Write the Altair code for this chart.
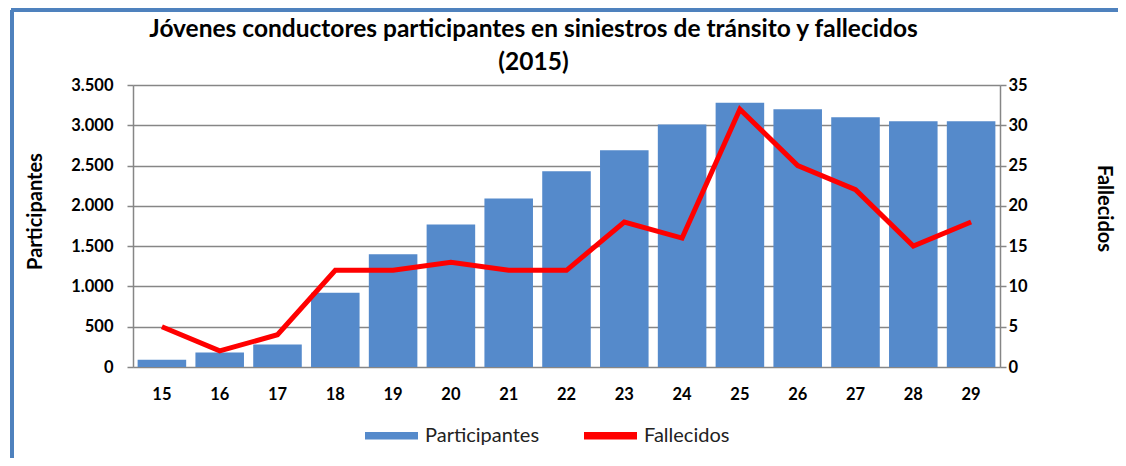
import altair as alt
import pandas as pd

edades = ["15", "16", "17", "18", "19", "20", "21", "22", "23", "24", "25", "26", "27", "28", "29"]
participantes = [90, 180, 280, 920, 1400, 1770, 2090, 2430, 2690, 3010, 3280, 3200, 3100, 3050, 3050]
fallecidos = [5, 2, 4, 12, 12, 13, 12, 12, 18, 16, 32, 25, 22, 15, 18]
series = ["Participantes", "Fallecidos"]
colores = ["#558ACB", "#FF0000"]

df = pd.DataFrame({"edad": edades, "participantes": participantes, "fallecidos": fallecidos})

FONT = "Lato"
W, H = 867, 282

x = alt.X("edad:N", sort=edades, title=None,
          scale=alt.Scale(paddingInner=0.16, paddingOuter=0.08),
          axis=alt.Axis(labelAngle=0, labelFontWeight="bold", labelFontSize=16.5, labelFont=FONT,
                        labelColor="#000", ticks=False, domain=False, labelPadding=19))

color = alt.Color("serie:N", scale=alt.Scale(domain=series, range=colores), title=None,
                  legend=alt.Legend(orient="none", legendX=232, legendY=324, direction="horizontal",
                                    symbolType="M-1,-0.14H1V0.14H-1Z", symbolSize=2809,
                                    symbolStrokeWidth=0, labelFont=FONT, labelFontSize=20,
                                    labelColor="#222", labelOffset=7, columnPadding=44, padding=0))

bars = alt.Chart(df).transform_calculate(serie="'Participantes'").mark_bar(opacity=1).encode(
    x=x,
    y=alt.Y("participantes:Q", title="Participantes",
            scale=alt.Scale(domain=[0, 3500]),
            axis=alt.Axis(values=list(range(0, 3501, 500)), labelExpr="replace(format(datum.value, ','), ',', '.')",
                          labelFontWeight="bold", labelFontSize=16.5, labelFont=FONT, labelColor="#000",
                          titleFont=FONT, titleFontSize=20, titleFontWeight="bold", titleColor="#000",
                          titleX=-98, titleY=126, titleBaseline="middle", titleAlign="center",
                          tickSize=6, tickColor="#868686", tickWidth=1.5,
                          domainColor="#868686", domainWidth=1.5, gridColor="#868686", gridWidth=1.5,
                          labelPadding=14)),
    color=color,
)

line = alt.Chart(df).transform_calculate(serie="'Fallecidos'").mark_line(strokeWidth=5, strokeJoin="miter").encode(
    x=x,
    y=alt.Y("fallecidos:Q", title="Fallecidos",
            scale=alt.Scale(domain=[0, 35]),
            axis=alt.Axis(orient="right", values=list(range(0, 36, 5)), grid=False,
                          labelFontWeight="bold", labelFontSize=16.5, labelFont=FONT, labelColor="#000",
                          titleFont=FONT, titleFontSize=20, titleFontWeight="bold", titleColor="#000",
                          titleX=103, titleY=123, titleBaseline="middle", titleAlign="center",
                          tickSize=6, tickColor="#868686", tickWidth=1.5,
                          domainColor="#868686", domainWidth=1.5, labelPadding=2)),
    color=color,
)

frame_v = alt.Chart(df).mark_rule(color="#4F81BD", strokeWidth=3).encode(
    x=alt.value(-121), y=alt.value(-75), y2=alt.value(385))
frame_h = alt.Chart(df).mark_rule(color="#4F81BD", strokeWidth=3).encode(
    x=alt.value(-122), x2=alt.value(1000), y=alt.value(-75))

chart = alt.layer(bars, line, frame_v, frame_h).resolve_scale(y="independent").properties(
    width=W, height=H,
    padding={"left": 125, "top": 77, "right": 118, "bottom": 91},
    autosize=alt.AutoSizeParams(type="none"),
    title=alt.TitleParams(["Jóvenes conductores participantes  en siniestros de tránsito y fallecidos", "(2015)"],
                          font=FONT, fontSize=24.5, fontWeight="bold", color="#000", lineHeight=33,
                          anchor="middle", frame="group", dx=-33, offset=-67),
).configure_view(stroke=None).configure(background="white")

chart.save("out.html", embed_options={"renderer": "svg", "actions": False})
